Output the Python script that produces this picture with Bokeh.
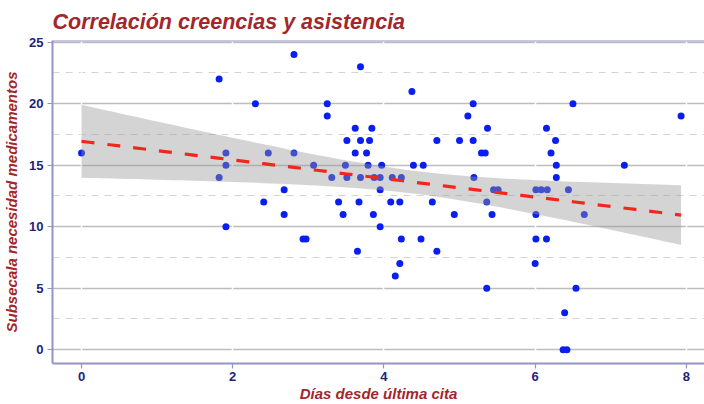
import numpy as np
from bokeh.plotting import figure
from bokeh.models import SingleIntervalTicker, Span, ColumnDataSource
from bokeh.embed import file_html
from bokeh.resources import INLINE

# Days since last appointment vs. "necesidad medicamentos" subscale
dias = [0.00, 1.82, 1.82, 1.91, 1.91, 1.91, 2.30, 2.41, 2.47, 2.68, 2.68, 2.81, 2.81,
        2.93, 2.97, 3.07, 3.25, 3.25, 3.31, 3.40, 3.46, 3.49, 3.51, 3.51, 3.62, 3.62,
        3.65, 3.67, 3.69, 3.69, 3.69, 3.77, 3.79, 3.81, 3.84, 3.86, 3.87, 3.95, 3.95,
        3.95, 3.97, 4.09, 4.11, 4.15, 4.21, 4.21, 4.23, 4.23, 4.37, 4.39, 4.49, 4.52,
        4.64, 4.70, 4.70, 4.93, 5.00, 5.11, 5.18, 5.18, 5.19, 5.29, 5.34, 5.36, 5.36,
        5.37, 5.43, 5.45, 5.51, 6.00, 6.01, 6.01, 6.01, 6.08, 6.15, 6.15, 6.16, 6.21,
        6.27, 6.28, 6.28, 6.37, 6.39, 6.42, 6.44, 6.50, 6.54, 6.65, 7.18, 7.93]
necesidad = [16, 22, 14, 16, 15, 10, 20, 12, 16, 13, 11, 24, 16,
             9, 9, 15, 20, 19, 14, 12, 11, 15, 17, 14, 18, 16,
             8, 12, 23, 17, 14, 16, 15, 17, 18, 11, 14, 14, 13,
             10, 15, 12, 14, 6, 12, 7, 14, 9, 21, 15, 9, 15,
             12, 17, 8, 11, 17, 19, 20, 17, 14, 16, 16, 12, 5,
             18, 11, 13, 13, 7, 13, 11, 9, 13, 18, 9, 13, 16,
             17, 15, 14, 0, 3, 0, 13, 20, 5, 11, 15, 19]

X_LIMITS = (-0.384, 8.24)
Y_LIMITS = (-1.12, 25.14)
T95 = 1.987  # two-sided 95% t quantile, df = n - 2

# ordinary least squares fit with 95% confidence band for the mean
x = np.asarray(dias, dtype=float)
y = np.asarray(necesidad, dtype=float)
n = len(x)
slope, intercept = np.polyfit(x, y, 1)
resid = y - (intercept + slope * x)
s = np.sqrt(np.sum(resid ** 2) / (n - 2))
sxx = np.sum((x - x.mean()) ** 2)
xf = np.linspace(x.min(), x.max(), 80)
yf = intercept + slope * xf
se = s * np.sqrt(1.0 / n + (xf - x.mean()) ** 2 / sxx)
fit = ColumnDataSource(dict(x=xf, y=yf, lo=yf - T95 * se, hi=yf + T95 * se))

TITLE_RED = "#A2262B"
TICK_NAVY = "#1E2478"
FRAME = "#9494C4"

p = figure(width=704, height=404, x_range=X_LIMITS, y_range=Y_LIMITS,
           output_backend="svg", toolbar_location=None,
           min_border_left=52, min_border_right=0, min_border_top=40,
           min_border_bottom=40, outline_line_color=None,
           background_fill_color="white", border_fill_color="white")

p.title.text = "Correlación creencias y asistencia"
p.title.text_font = "Liberation Sans"
p.title.text_font_style = "bold italic"
p.title.text_font_size = "21.5px"
p.title.text_color = TITLE_RED
p.title.offset = 0
p.title.standoff = 14

# grids: solid major / dashed minor horizontals, white verticals on top
p.xaxis.ticker = SingleIntervalTicker(interval=2, num_minor_ticks=0)
p.yaxis.ticker = SingleIntervalTicker(interval=5, num_minor_ticks=2)
xg = p.xgrid[0]
yg = p.ygrid[0]
yg.grid_line_color = "#BDBDBD"
yg.grid_line_width = 1.6
yg.minor_grid_line_color = "#D4D4D4"
yg.minor_grid_line_width = 1.0
yg.minor_grid_line_dash = "7 6"
xg.grid_line_color = "white"
xg.grid_line_width = 1.5
p.center = [yg, xg]

for ax in (p.xaxis[0], p.yaxis[0]):
    ax.axis_line_color = FRAME
    ax.axis_line_width = 2
    ax.major_tick_line_color = FRAME
    ax.major_tick_line_width = 1.2
    ax.major_tick_out = 5
    ax.major_tick_in = 0
    ax.minor_tick_line_color = None
    ax.major_label_text_font = "Liberation Sans"
    ax.major_label_text_font_style = "bold"
    ax.major_label_text_font_size = "13px"
    ax.major_label_text_color = TICK_NAVY
    ax.axis_label_text_font = "Liberation Sans"
    ax.axis_label_text_font_style = "bold italic"
    ax.axis_label_text_font_size = "15px"
    ax.axis_label_text_color = TITLE_RED

p.xaxis.axis_label = "Días desde última cita"
p.yaxis.axis_label = "Subsecala necesidad medicamentos"
p.xaxis.major_label_standoff = 3
p.yaxis.major_label_standoff = 4
p.xaxis.axis_label_standoff = 1
p.yaxis.axis_label_standoff = 6

# top border of the panel
p.add_layout(Span(location=Y_LIMITS[1], dimension="width",
                  line_color=FRAME, line_width=2))

p.scatter(dias, necesidad, size=7, color="#0A1EF0", line_color=None)
p.varea(x="x", y1="lo", y2="hi", source=fit, fill_color="#999999", fill_alpha=0.42)
p.line(x="x", y="y", source=fit, line_color="#F2261C", line_width=3.2,
       line_dash="13 13")

open("out.html", "w").write(file_html(p, INLINE))
